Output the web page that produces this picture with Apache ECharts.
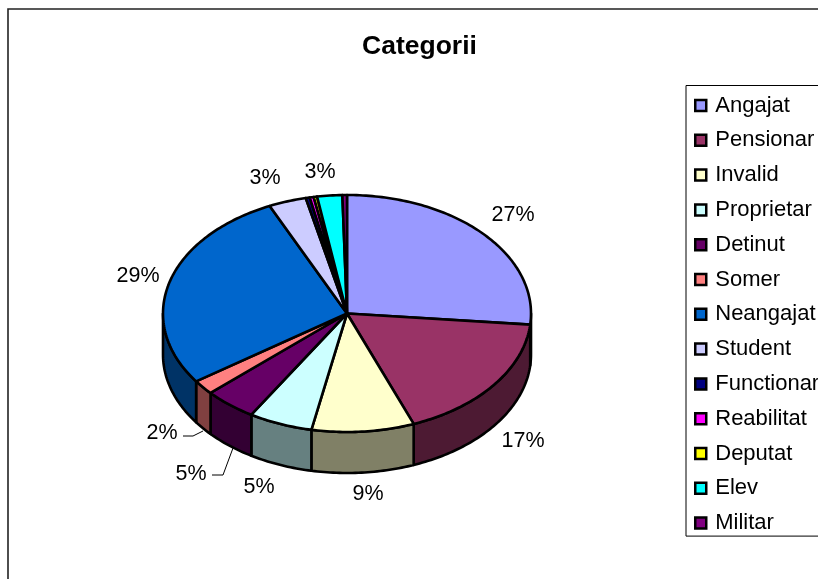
<!DOCTYPE html>
<html>
<head>
<meta charset="utf-8">
<style>html,body{margin:0;padding:0;background:#fff}#chart{width:818px;height:579px}</style>
<script src="https://cdn.jsdelivr.net/npm/echarts@6/dist/echarts.min.js"></script>
</head>
<body>
<div id="chart"></div>
<script>
var categories = ['Angajat', 'Pensionar', 'Invalid', 'Proprietar', 'Detinut', 'Somer', 'Neangajat', 'Student', 'Functionar', 'Reabilitat', 'Deputat', 'Elev', 'Militar'];
// shares, in percent
var values = [26.5, 17.6, 9.0, 5.6, 4.6, 2.0, 27.8, 3.3, 0.35, 0.35, 0.3, 2.2, 0.4];
// labels as printed on the picture
var percentLabels = ['27%', '17%', '9%', '5%', '5%', '2%', '29%', '3%', '', '', '', '3%', ''];
var colors = ['#9999FF', '#993366', '#FFFFCC', '#CCFFFF', '#660066', '#FF8080', '#0066CC', '#CCCCFF', '#000080', '#FF00FF', '#FFFF00', '#00FFFF', '#800080'];
var wallColors = ['#4D4D80', '#4D1A33', '#808066', '#668080', '#330033', '#804040', '#003366', '#666680', '#000040', '#800080', '#808000', '#008080', '#400040'];

// label centres, the pie has no axes so these stay by hand
var labelPos = [[513, 215], [523, 441], [368, 494], [259, 487], [191, 474], [162, 433], [138, 276], [265, 178], null, null, null, [320, 172], null];

var cx = 347, cy = 313.5, rx = 184, ry = 118.5, depth = 41;

var total = values.reduce(function (a, b) { return a + b; }, 0);

function pt(deg, dy) {
  var r = deg * Math.PI / 180;
  return [cx + rx * Math.sin(r), cy - ry * Math.cos(r) + (dy || 0)];
}

function arc(from, to, dy) {
  var pts = [];
  var n = Math.max(2, Math.ceil(Math.abs(to - from)));
  for (var i = 0; i <= n; i++) {
    pts.push(pt(from + (to - from) * i / n, dy));
  }
  return pts;
}

var lineStyle = { stroke: '#000', lineWidth: 2.6, lineJoin: 'round' };

function makeRender(index, startDeg) {
  return function (params, api) {
    var endDeg = startDeg + api.value(0) / total * 360;
    var children = [];
    // front wall, only the part facing the viewer
    var a = Math.max(startDeg, 90), b = Math.min(endDeg, 270);
    if (b > a) {
      children.push({
        type: 'polygon',
        shape: { points: arc(a, b, 0).concat(arc(b, a, depth)) },
        style: Object.assign({ fill: wallColors[index] }, lineStyle)
      });
    }
    children.push({
      type: 'polygon',
      shape: { points: [[cx, cy]].concat(arc(startDeg, endDeg, 0)) },
      style: Object.assign({ fill: colors[index] }, lineStyle)
    });
    if (labelPos[index]) {
      children.push({
        type: 'text',
        z2: 10,
        style: {
          text: percentLabels[index],
          x: labelPos[index][0],
          y: labelPos[index][1],
          align: 'center',
          verticalAlign: 'middle',
          fill: '#000',
          font: '21.5px "Liberation Sans", Arial, sans-serif'
        }
      });
    }
    return { type: 'group', children: children };
  };
}

var series = [];
var start = 0;
categories.forEach(function (name, i) {
  series.push({
    type: 'custom',
    name: name,
    coordinateSystem: 'none',
    silent: true,
    animation: false,
    itemStyle: { color: colors[i] },
    data: [[values[i]]],
    renderItem: makeRender(i, start)
  });
  start += values[i] / total * 360;
});

var chart = echarts.init(document.getElementById('chart'), null, { renderer: 'canvas' });
chart.setOption({
  backgroundColor: '#fff',
  animation: false,
  title: {
    text: 'Categorii',
    left: 362,
    top: 33,
    padding: 0,
    textStyle: { fontFamily: '"Liberation Sans", Arial, sans-serif', fontSize: 26.5, fontWeight: 'bold', color: '#000' }
  },
  legend: {
    orient: 'vertical',
    left: 686,
    top: 85.5,
    padding: [9, 100, 2, 8],
    itemWidth: 11,
    itemHeight: 11,
    itemGap: 12.8,
    icon: 'rect',
    itemStyle: { borderColor: '#000', borderWidth: 2.5 },
    borderColor: '#000',
    borderWidth: 1,
    backgroundColor: '#fff',
    selectedMode: false,
    textStyle: { fontFamily: '"Liberation Sans", Arial, sans-serif', fontSize: 22, color: '#000', padding: [3, 0, 0, 4] },
    data: categories
  },
  graphic: [
    { type: 'rect', silent: true, z: -1, shape: { x: 8, y: 9, width: 900, height: 700 }, style: { fill: '#fff', stroke: '#222', lineWidth: 1.6 } },
    { type: 'polyline', silent: true, z: 5, shape: { points: [[183, 436], [193, 436], [203, 431]] }, style: { stroke: '#000', lineWidth: 1, fill: null } },
    { type: 'polyline', silent: true, z: 5, shape: { points: [[212, 475], [223, 475], [233, 448]] }, style: { stroke: '#000', lineWidth: 1, fill: null } }
  ],
  series: series
});
</script>
</body>
</html>
